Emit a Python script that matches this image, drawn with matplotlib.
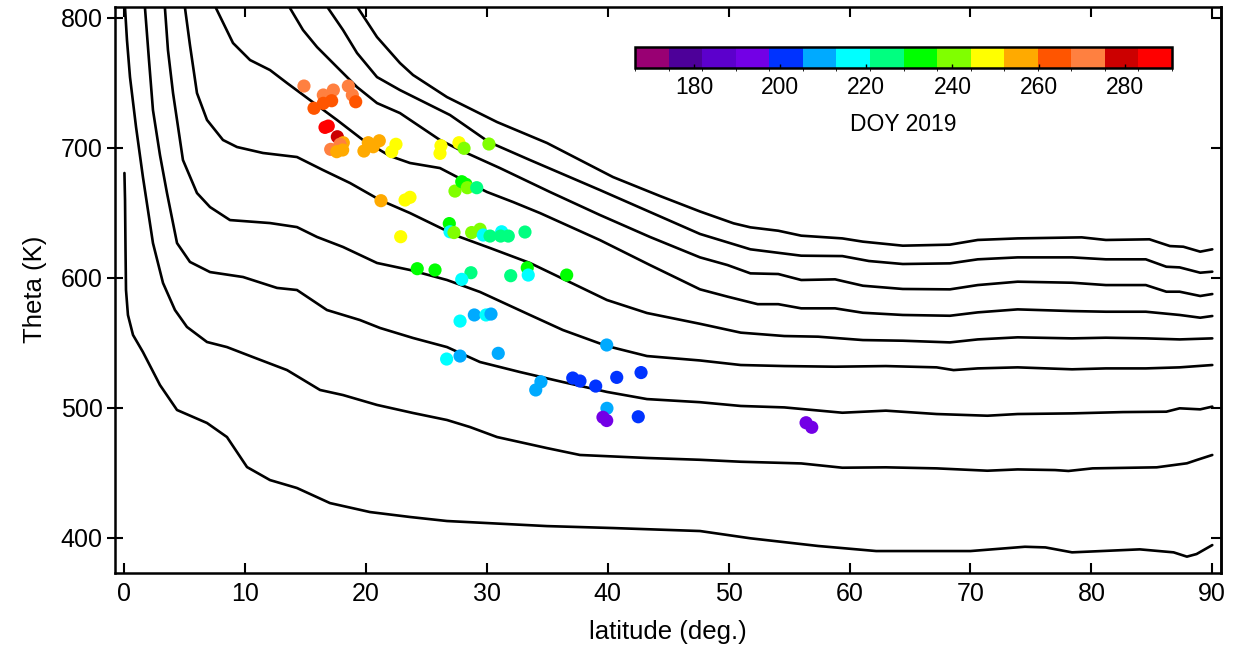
import numpy as np
import matplotlib
matplotlib.use("Agg")
import matplotlib.pyplot as plt
from matplotlib.colors import ListedColormap, BoundaryNorm
import matplotlib.colorbar as mcolorbar

plt.rcParams['font.family'] = ['Liberation Sans', 'DejaVu Sans']

# ---------------- contour lines (latitude, theta) ----------------
l1_lat = [19.34, 20.91, 22.81, 23.89, 26.70, 30.84, 34.97, 40.43, 44.32, 47.63, 50.4, 51.8, 54.1, 56.0, 59.4, 61.1, 64.4, 68.3, 70.6, 73.9, 79.2, 81.2, 84.8, 86.5, 87.6, 89.0, 90.0]
l1_th = [807.3, 785.0, 765.0, 755.8, 738.8, 719.6, 703.5, 677.3, 662.7, 650.8, 641.7, 638.6, 636.0, 632.2, 630.1, 627.6, 624.5, 625.3, 628.9, 630.1, 630.9, 628.9, 629.4, 624.2, 623.7, 619.9, 621.7]

l2_lat = [16.86, 18.10, 19.26, 20.91, 22.81, 26.95, 30.17, 33.56, 39.35, 43.49, 47.63, 51.8, 56.0, 59.4, 61.6, 64.4, 68.3, 70.6, 73.9, 78.4, 81.2, 84.5, 86.2, 87.3, 89.0, 90.0]
l2_th = [807.3, 790.4, 772.7, 754.2, 744.2, 725.0, 704.2, 690.4, 667.3, 650.4, 633.5, 621.7, 616.8, 616.5, 612.7, 610.4, 610.9, 614.0, 615.5, 615.5, 614.0, 614.0, 608.3, 607.8, 603.7, 604.5]

l3_lat = [13.71, 14.79, 15.95, 17.60, 19.26, 20.91, 22.81, 26.12, 27.77, 31.08, 35.22, 39.35, 43.49, 47.63, 49.9, 51.8, 54.1, 56.0, 58.8, 61.1, 64.4, 68.3, 70.6, 73.9, 78.4, 81.2, 84.5, 86.2, 87.3, 89.0, 90.0]
l3_th = [807.3, 790.4, 777.3, 761.9, 746.5, 734.2, 726.5, 705.8, 698.1, 684.2, 665.8, 648.1, 631.2, 615.5, 609.6, 603.2, 602.7, 598.1, 598.6, 593.7, 591.2, 590.9, 594.2, 596.8, 596.0, 594.2, 594.2, 589.1, 589.1, 585.8, 587.3]

l4_lat = [7.59, 9.00, 10.41, 12.06, 13.47, 15.37, 17.60, 19.75, 21.98, 23.64, 26.12, 28.02, 30.01, 32.16, 34.39, 39.35, 43.49, 47.63, 49.9, 52.4, 54.1, 56.0, 58.8, 61.1, 64.4, 68.3, 70.6, 73.9, 78.4, 81.2, 84.5, 87.3, 89.0, 90.0]
l4_th = [807.3, 780.4, 767.3, 759.6, 749.6, 736.5, 721.2, 705.8, 693.5, 688.1, 684.2, 675.0, 665.8, 658.1, 649.6, 628.8, 609.6, 590.9, 585.3, 579.5, 579.5, 576.3, 576.3, 572.9, 571.2, 570.6, 573.2, 575.5, 574.2, 573.7, 573.7, 571.2, 569.1, 570.4]

l5_lat = [5.03, 5.44, 6.02, 6.85, 8.17, 9.33, 11.48, 14.29, 16.44, 18.68, 21.16, 23.64, 27.53, 30.26, 33.56, 37.70, 39.93, 43.24, 47.63, 51.0, 54.6, 57.4, 61.1, 64.4, 68.3, 70.6, 73.9, 78.4, 81.2, 84.5, 87.3, 90.0]
l5_th = [807.3, 778.8, 741.9, 721.2, 705.8, 700.4, 695.8, 692.7, 682.7, 672.7, 659.6, 649.6, 632.0, 622.7, 611.2, 592.7, 582.7, 572.7, 564.4, 557.6, 555.0, 554.5, 551.9, 551.4, 550.1, 552.4, 554.0, 553.2, 553.7, 553.2, 552.4, 553.2]

l6_lat = [3.37, 3.62, 4.04, 4.86, 6.02, 7.10, 8.75, 12.06, 14.29, 15.95, 18.10, 20.91, 23.64, 26.70, 29.43, 33.56, 36.29, 39.93, 43.24, 47.63, 51.0, 54.6, 58.8, 63.0, 67.2, 68.6, 70.6, 73.9, 78.4, 81.2, 84.5, 87.3, 90.0]
l6_th = [807.3, 775.0, 741.9, 690.4, 665.0, 654.2, 644.2, 641.9, 638.8, 631.2, 623.5, 611.2, 605.8, 598.1, 588.9, 571.2, 559.6, 547.3, 539.6, 536.2, 532.7, 531.9, 531.4, 531.9, 530.9, 528.8, 530.1, 530.9, 529.4, 530.1, 530.1, 530.9, 532.7]

l7_lat = [1.72, 2.05, 2.38, 2.96, 3.54, 4.37, 5.44, 7.10, 9.83, 12.64, 14.29, 16.77, 19.50, 21.16, 23.89, 26.70, 29.43, 32.74, 36.29, 39.93, 43.24, 47.63, 51.0, 54.6, 59.4, 63.0, 67.2, 71.4, 73.9, 78.4, 82.6, 86.2, 87.3, 89.0, 90.0]
l7_th = [807.3, 767.3, 728.8, 694.2, 665.0, 626.5, 612.0, 604.2, 600.4, 592.0, 590.4, 575.0, 567.3, 561.2, 553.5, 546.5, 535.0, 527.3, 519.6, 512.0, 506.5, 504.1, 501.2, 500.1, 496.0, 497.6, 495.0, 493.7, 495.0, 495.5, 496.5, 496.8, 499.4, 498.6, 500.7]

l8_lat = [0.07, 0.23, 0.48, 0.98, 1.55, 2.38, 3.21, 4.20, 5.19, 6.85, 8.50, 10.65, 13.47, 16.20, 18.10, 20.91, 23.89, 26.70, 28.60, 30.84, 34.97, 37.70, 43.24, 47.63, 51.0, 56.0, 59.4, 63.0, 67.2, 71.4, 73.9, 77.0, 78.1, 80.1, 85.4, 87.9, 88.7, 90.0]
l8_th = [807.3, 782.7, 754.2, 715.8, 677.3, 626.5, 595.8, 575.0, 562.0, 550.4, 546.5, 538.8, 528.8, 513.5, 509.6, 502.0, 495.8, 490.4, 485.0, 477.3, 468.8, 463.5, 461.2, 459.8, 458.3, 457.0, 453.7, 454.0, 453.2, 451.4, 452.4, 451.9, 451.2, 453.2, 454.0, 457.1, 459.6, 463.5]

l9_lat = [0.02, 0.07, 0.11, 0.15, 0.31, 0.73, 1.55, 2.96, 4.37, 6.85, 8.50, 10.16, 12.06, 14.29, 17.02, 20.33, 23.64, 26.70, 34.97, 40.43, 47.63, 51.8, 57.4, 62.2, 70.0, 74.5, 76.2, 78.4, 84.0, 86.8, 87.9, 88.7, 90.0]
l9_th = [680.4, 659.6, 621.2, 590.4, 571.2, 555.8, 542.7, 517.3, 498.1, 488.1, 477.3, 454.2, 444.2, 438.1, 426.5, 419.6, 415.8, 412.7, 408.8, 407.3, 405.0, 399.4, 393.5, 389.6, 389.6, 392.9, 392.4, 388.6, 390.9, 388.6, 385.3, 387.3, 394.2]

contour_lats = [l1_lat, l2_lat, l3_lat, l4_lat, l5_lat, l6_lat, l7_lat, l8_lat, l9_lat]
contour_ths = [l1_th, l2_th, l3_th, l4_th, l5_th, l6_th, l7_th, l8_th, l9_th]

# ---------------- observations ----------------
obs_lat = [14.87, 16.47, 17.30, 15.70, 16.47, 17.16, 18.54, 18.87, 19.15, 16.61, 16.88, 17.63,
           18.12, 17.85, 17.08, 17.58, 18.07, 20.19, 21.10, 19.83, 20.60, 22.48, 22.13,
           26.20, 26.12, 27.69, 28.11, 30.17, 21.24, 23.23, 23.64, 22.87,
           27.36, 27.92, 28.27, 28.38, 29.16,
           26.89, 26.95, 27.28, 28.74, 29.43, 29.70, 30.26, 31.22, 31.14, 31.77, 33.15,
           24.24, 25.71, 28.68, 27.92, 31.97, 33.34, 33.42, 36.60,
           27.78, 28.96, 29.93, 30.34, 26.67, 27.78, 30.94, 34.47, 34.04, 39.91,
           37.10, 37.70, 39.00, 40.74, 42.75, 39.93, 39.60, 39.91, 42.52, 56.40, 56.87]
obs_theta = [747.3, 740.4, 744.2, 730.2, 734.0, 736.0, 747.3, 740.4, 735.2, 715.5, 716.5, 708.3,
             703.7, 702.5, 698.6, 696.8, 698.1, 703.7, 705.2, 697.3, 700.6, 702.5, 696.8,
             701.4, 695.5, 703.7, 699.4, 702.7, 659.1, 659.6, 661.7, 631.4,
             666.5, 673.7, 671.7, 669.1, 669.1,
             641.5, 635.2, 634.6, 634.6, 637.1, 632.7, 631.9, 635.2, 631.9, 631.9, 635.0,
             606.8, 605.8, 603.7, 598.6, 601.4, 607.5, 601.9, 601.9,
             566.5, 571.2, 571.2, 571.9, 537.3, 539.6, 541.7, 519.8, 513.5, 548.1,
             522.7, 520.4, 516.5, 523.2, 526.9, 499.4, 492.5, 490.0, 492.9, 488.3, 484.8]
obs_doy = [272, 271, 273, 264, 263, 265, 274, 270, 266, 288, 286, 280,
           257, 271, 273, 255, 258, 256, 257, 255, 256, 248, 249,
           247, 248, 249, 241, 240, 256, 248, 247, 249,
           240, 233, 232, 241, 225,
           233, 217, 240, 241, 240, 217, 225, 218, 226, 224, 226,
           233, 232, 225, 217, 224, 233, 217, 232,
           217, 209, 216, 209, 217, 209, 209, 210, 209, 209,
           201, 202, 201, 201, 202, 209, 194, 193, 201, 193, 194]

# ---------------- colour scale / ticks ----------------
doy_colors = ['#990073', '#4d0099', '#5c00cc', '#7300e6', '#0033ff', '#00aaff',
              '#00ffff', '#00ff80', '#00ff00', '#80ff00', '#ffff00', '#ffaa00',
              '#ff5500', '#ff8040', '#cc0000', '#ff0000']
doy_min, doy_max = 166.25, 291.0
cbar_ticks = [180, 200, 220, 240, 260, 280]
x_ticks = [0, 10, 20, 30, 40, 50, 60, 70, 80, 90]
y_ticks = [400, 500, 600, 700, 800]

cmap = ListedColormap(doy_colors)
bounds = np.linspace(doy_min, doy_max, len(doy_colors) + 1)
norm = BoundaryNorm(bounds, cmap.N)

W, H = 1258, 652
fig = plt.figure(figsize=(W / 100, H / 100), dpi=100)
ax = fig.add_axes([115 / W, 1 - 572.5 / H, 1106 / W, 565.5 / H])

for la, th in zip(contour_lats, contour_ths):
    ax.plot(la, th, color='black', lw=1.9, solid_joinstyle='round',
            solid_capstyle='round', zorder=2)

ax.scatter(obs_lat, obs_theta, c=obs_doy, cmap=cmap, norm=norm, s=90,
           edgecolors='none', zorder=3)

ax.set_xlim(-0.76, 90.72)
ax.set_ylim(373.1, 808.1)
ax.set_xticks(x_ticks)
ax.set_yticks(y_ticks)
for sp in ax.spines.values():
    sp.set_linewidth(1.8)
ax.tick_params(axis='x', direction='in', top=True, length=7, width=1.5,
               labelsize=18, pad=7)
ax.tick_params(axis='y', left=True, right=False, direction='inout', length=12,
               width=1.5, labelsize=18, pad=3)

ax2 = ax.secondary_yaxis('right')
ax2.set_yticks(y_ticks)
ax2.tick_params(direction='in', length=7, width=1.5, labelright=False)
ax2.spines['right'].set_linewidth(1.8)

ax.set_xlabel('latitude (deg.)', fontsize=18.5, labelpad=10)
ax.set_ylabel('Theta (K)', fontsize=18.5, labelpad=10)

# colour bar inset
cax = fig.add_axes([635 / W, 1 - 68 / H, 537 / W, 21 / H])
cb = mcolorbar.ColorbarBase(cax, cmap=cmap, norm=norm, orientation='horizontal',
                            boundaries=bounds, ticks=cbar_ticks, spacing='proportional')
cb.outline.set_linewidth(1.8)
cax.tick_params(direction='in', length=3, width=1, labelsize=16.5, pad=6)
cb.set_label('DOY 2019', fontsize=16.5, labelpad=10)

fig.savefig('out.png', dpi=100)
